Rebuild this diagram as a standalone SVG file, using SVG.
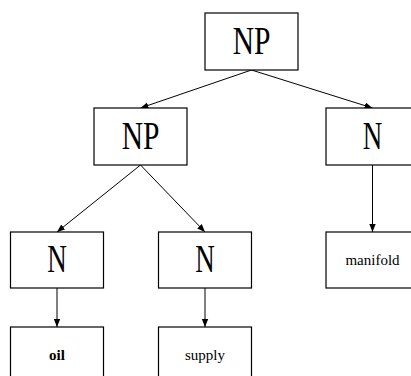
<svg xmlns="http://www.w3.org/2000/svg" width="411" height="376" viewBox="0 0 411 376">
  <style>
    .box { fill: #fff; stroke: #000; stroke-width: 1.2; }
    .cat { font-family: "Liberation Serif", serif; font-size: 41px; fill: #000; text-anchor: middle; }
    .word { font-family: "Liberation Serif", serif; font-size: 15px; fill: #000; text-anchor: middle; }
    .edge { stroke: #000; stroke-width: 1; fill: none; marker-end: url(#arrow); }
  </style>
  <defs>
    <marker id="arrow" viewBox="0 0 10 10" refX="10" refY="5" markerWidth="8" markerHeight="8" markerUnits="userSpaceOnUse" orient="auto">
      <path d="M0,1 L10,5 L0,9 Z" fill="#000"/>
    </marker>
  </defs>

  <g id="connectors">
    <line class="edge" x1="251.5" y1="70" x2="140.5" y2="108"/>
    <line class="edge" x1="251.5" y1="70" x2="372.5" y2="108"/>
    <line class="edge" x1="140.5" y1="165" x2="57" y2="232"/>
    <line class="edge" x1="140.5" y1="165" x2="205" y2="232"/>
    <line class="edge" x1="57" y1="288" x2="57" y2="327"/>
    <line class="edge" x1="205" y1="288" x2="205" y2="327"/>
    <line class="edge" x1="372.5" y1="165" x2="372.5" y2="232"/>
  </g>

  <g id="np-root">
    <rect class="box" x="205" y="13" width="93" height="57"/>
    <text class="cat" transform="translate(251.5,54) scale(0.72,1)">NP</text>
  </g>
  <g id="np-child">
    <rect class="box" x="94" y="108" width="93" height="57"/>
    <text class="cat" transform="translate(140.5,149) scale(0.72,1)">NP</text>
  </g>
  <g id="n-right">
    <rect class="box" x="326" y="108" width="93" height="57"/>
    <text class="cat" transform="translate(372.5,149) scale(0.66,1)">N</text>
  </g>
  <g id="n-left">
    <rect class="box" x="10.5" y="232" width="93" height="56"/>
    <text class="cat" transform="translate(57,272) scale(0.66,1)">N</text>
  </g>
  <g id="n-middle">
    <rect class="box" x="158.5" y="232" width="93" height="56"/>
    <text class="cat" transform="translate(205,272) scale(0.66,1)">N</text>
  </g>
  <g id="word-manifold">
    <rect class="box" x="326" y="232" width="93" height="56"/>
    <text class="word" x="372.5" y="265">manifold</text>
  </g>
  <g id="word-oil">
    <rect class="box" x="10.5" y="327" width="93" height="57"/>
    <text class="word" x="57" y="360" font-weight="bold">oil</text>
  </g>
  <g id="word-supply">
    <rect class="box" x="158.5" y="327" width="93" height="57"/>
    <text class="word" x="205" y="360">supply</text>
  </g>
</svg>
